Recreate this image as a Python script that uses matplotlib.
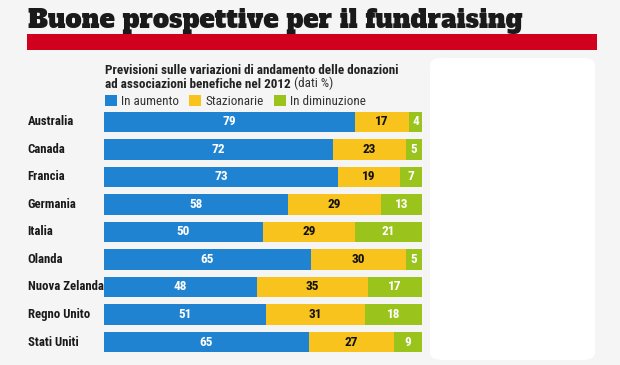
import numpy as np
import matplotlib
matplotlib.use("Agg")
import matplotlib.pyplot as plt
from matplotlib.patches import Rectangle, FancyBboxPatch

# data (dati %)
countries = ["Australia", "Canada", "Francia", "Germania", "Italia",
             "Olanda", "Nuova Zelanda", "Regno Unito", "Stati Uniti"]
in_aumento = [79, 72, 73, 58, 50, 65, 48, 51, 65]
stazionarie = [17, 23, 19, 29, 29, 30, 35, 31, 27]
in_diminuzione = [4, 5, 7, 13, 21, 5, 17, 18, 9]
series_names = ["In aumento", "Stazionarie", "In diminuzione"]

title = "Buone prospettive per il fundraising"
subtitle1 = "Previsioni sulle variazioni di andamento delle donazioni"
subtitle2 = "ad associazioni benefiche nel 2012 "
subtitle2b = "(dati %)"

W, H = 620, 365
BLUE = "#1f83d1"
YELLOW = "#f7c31c"
GREEN = "#9ac31c"
RED = "#d1001e"
BG = "#f5f5f5"
NARROW = ["Roboto Condensed", "Archivo Narrow", "DejaVu Sans"]
SLAB = ["Alfa Slab One", "DejaVu Serif"]


def fx(px):
    return px / W


def fy(py):
    return 1 - py / H


def fit_width(txt, target_px):
    # shrink/grow a text so it spans target_px
    fig.canvas.draw()
    bb = txt.get_window_extent(renderer=fig.canvas.get_renderer())
    txt.set_fontsize(txt.get_fontsize() * target_px / bb.width)


fig = plt.figure(figsize=(W / 100, H / 100), dpi=100, facecolor=BG)

# whitish erased area on the right
fig.patches.append(FancyBboxPatch((fx(430), fy(360)), fx(165), 302 / H,
                                  boxstyle="round,pad=0,rounding_size=0.02",
                                  transform=fig.transFigure, facecolor="white",
                                  edgecolor="none", zorder=0))

# title + red band
tt = fig.text(fx(28), fy(27.5), title, fontsize=20, family=SLAB,
              color="#1a1a1a", ha="left", va="baseline")
fit_width(tt, 494)
fig.patches.append(Rectangle((fx(27), fy(50)), fx(570), 16 / H,
                             transform=fig.transFigure, facecolor=RED,
                             edgecolor="none", zorder=1))

# subtitle
s1 = fig.text(fx(105), fy(74), subtitle1, fontsize=9, fontweight="bold",
              family=NARROW, color="#222222", va="baseline")
fit_width(s1, 294)
sub_fs = s1.get_fontsize()
t2 = fig.text(fx(105), fy(87.5), subtitle2, fontsize=sub_fs, fontweight="bold",
              family=NARROW, color="#222222", va="baseline")
fig.canvas.draw()
bb = t2.get_window_extent(renderer=fig.canvas.get_renderer())
fig.text(bb.x1 / fig.bbox.width, fy(87.5), subtitle2b, fontsize=sub_fs,
         family=NARROW, color="#333333", va="baseline")

# legend
leg_x = [105, 189, 274]
for x0, name, col in zip(leg_x, series_names, [BLUE, YELLOW, GREEN]):
    fig.patches.append(Rectangle((fx(x0), fy(106)), fx(12), 10.5 / H,
                                 transform=fig.transFigure, facecolor=col,
                                 edgecolor="none"))
    fig.text(fx(x0 + 16), fy(105), name, fontsize=sub_fs, family=NARROW,
             color="#333333", va="baseline")

# bars
ax = fig.add_axes([fx(104), 1 - 355.75 / H, fx(318), 247.5 / H])
ax.set_facecolor("none")
a = np.array(in_aumento, dtype=float)
s = np.array(stazionarie, dtype=float)
d = np.array(in_diminuzione, dtype=float)
tot = a + s + d
pa, ps, pd_ = a / tot * 100, s / tot * 100, d / tot * 100
y = np.arange(len(countries))
h = 0.74
ax.barh(y, pa, height=h, color=BLUE, linewidth=0)
ax.barh(y, ps, left=pa, height=h, color=YELLOW, linewidth=0)
ax.barh(y, pd_, left=pa + ps, height=h, color=GREEN, linewidth=0)

for i in range(len(countries)):
    ax.text(pa[i] / 2, y[i], str(in_aumento[i]), ha="center", va="center",
            color="white", fontsize=9.5, fontweight="bold", family=NARROW)
    ax.text(pa[i] + ps[i] / 2, y[i], str(stazionarie[i]), ha="center",
            va="center", color="#111111", fontsize=9.5, fontweight="bold",
            family=NARROW)
    ax.text(pa[i] + ps[i] + pd_[i] / 2, y[i], str(in_diminuzione[i]),
            ha="center", va="center", color="white", fontsize=9.5,
            fontweight="bold", family=NARROW)
    ax.text(-0.24, y[i], countries[i], transform=ax.get_yaxis_transform(),
            ha="left", va="center", fontsize=9.2, fontweight="bold",
            family=NARROW, color="#1a1a1a")

ax.set_xlim(0, 100)
ax.set_ylim(len(countries) - 0.5, -0.5)
ax.axis("off")

fig.savefig("out.png", dpi=100, facecolor=BG)
